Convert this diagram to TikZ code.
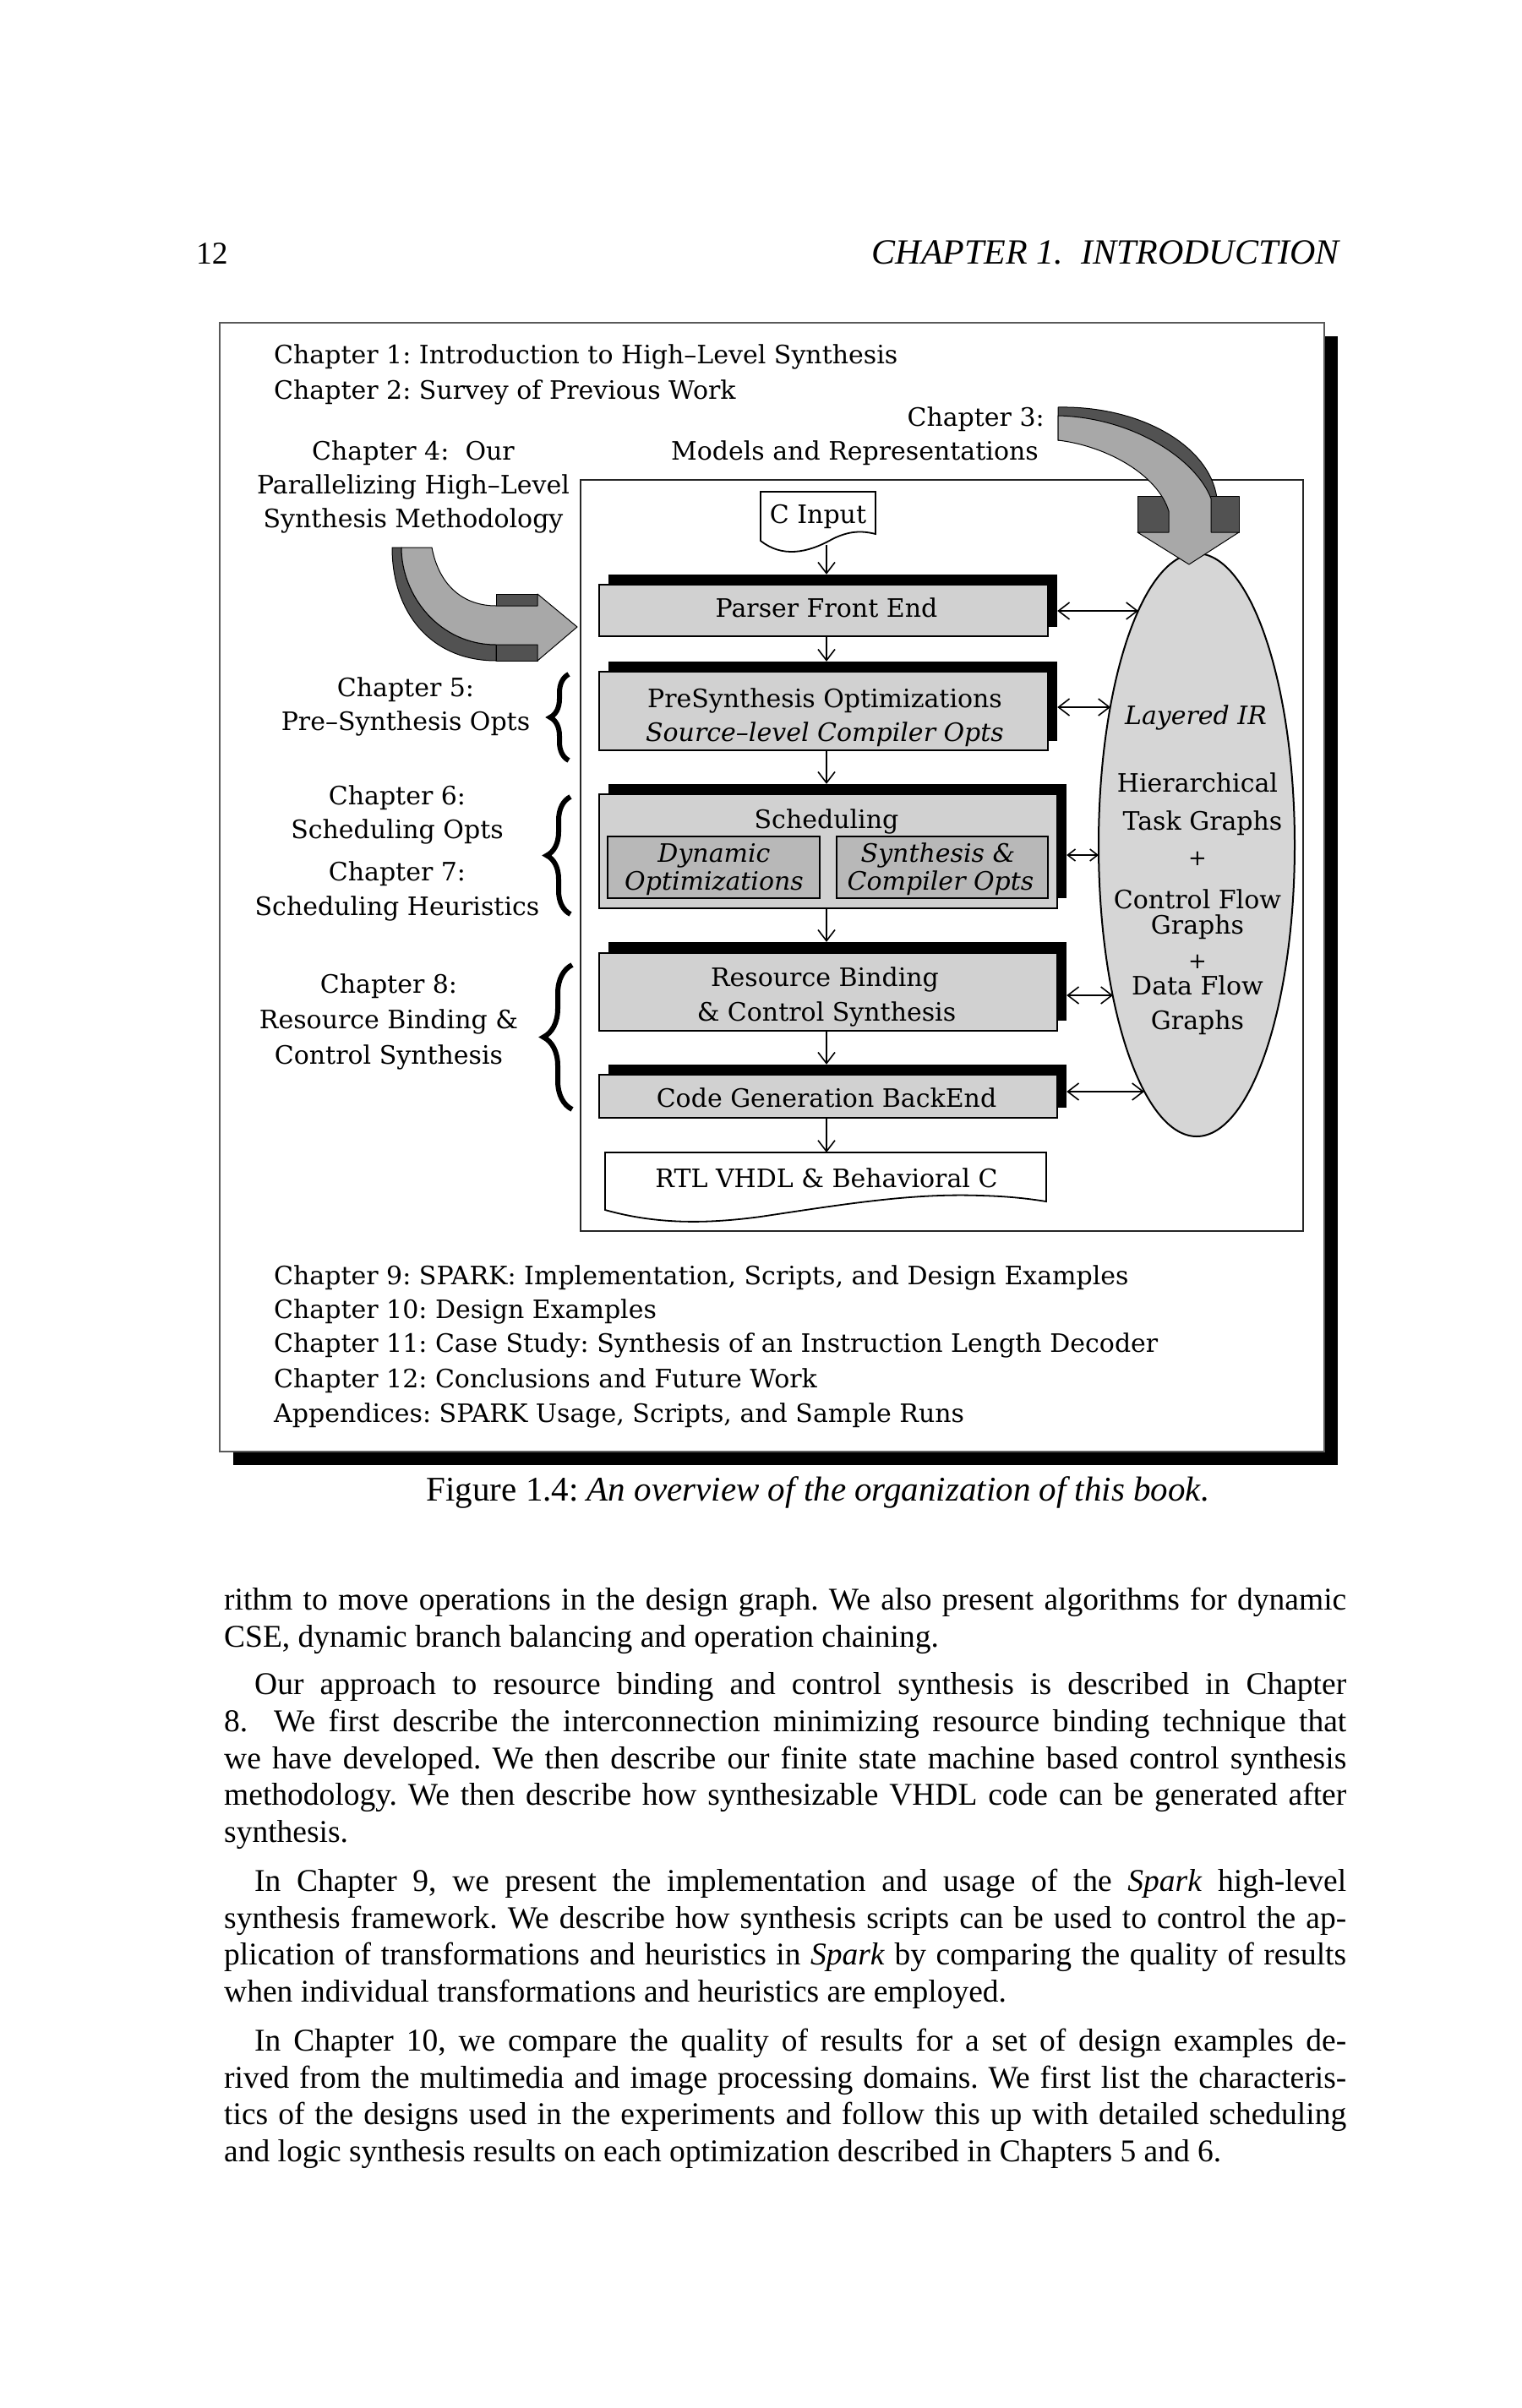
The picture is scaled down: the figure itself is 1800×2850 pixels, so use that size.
\documentclass[tikz,border=0pt]{standalone}
\usepackage{fontspec}
\setmainfont{Liberation Serif}
\newfontfamily\dfont{DejaVu Serif}
\usetikzlibrary{shapes.geometric,arrows.meta,decorations.pathreplacing}
\definecolor{facegray}{gray}{0.82}
\definecolor{subgray}{gray}{0.72}
\definecolor{irgray}{gray}{0.84}
\definecolor{arrlight}{gray}{0.66}
\definecolor{arrdark}{gray}{0.32}
\definecolor{framegray}{gray}{0.35}
\newlength\tw \setlength\tw{1328pt}
\begin{document}
\frenchspacing
\begin{tikzpicture}[x=1pt,y=-1pt,
  dtxt/.style={font=\dfont\fontsize{30}{40}\selectfont, inner sep=0pt, anchor=base},
  btxt/.style={font=\fontsize{37.5}{44}\selectfont, inner sep=0pt, anchor=base west},
  face/.style={draw=black, line width=2pt, fill=facegray, inner sep=0pt},
  shade/.style={fill=black, draw=none, inner sep=0pt},
  subbox/.style={draw=black, line width=1.5pt, fill=subgray, inner sep=0pt},
  flow/.style={-{Straight Barb[length=13pt,width=20pt]}, line width=1.6pt},
  both/.style={{Straight Barb[length=13pt,width=20pt]}-{Straight Barb[length=13pt,width=20pt]}, line width=1.6pt},
  bothsmall/.style={{Straight Barb[length=9pt,width=14pt]}-{Straight Barb[length=9pt,width=14pt]}, line width=1.6pt},
  brc/.style={decorate, decoration={brace, amplitude=#1}, line width=6pt},
  arrshape/.style={draw=black, line width=1pt, line join=round},
  docshape/.style={draw=black, line width=1.8pt, fill=white}
]
\path[use as bounding box] (0,0) rectangle (1800,2850);
\fill[white] (0,0) rectangle (1800,2850);

% running head
\node[btxt] (pgno) at (232,312) {12};
\node[btxt, anchor=base east, font=\fontsize{42}{44}\selectfont] (runhead) at (1585,312) {\itshape CHAPTER 1.\ \ INTRODUCTION};

% frame
\fill[black] (276,398) rectangle (1583,1734);
\draw[framegray, line width=2.5pt, fill=white] (260,382) rectangle (1567,1718);
\draw[black!85, line width=2pt] (687,568) rectangle (1542,1457);

% layered IR
\node[ellipse, draw=black, line width=2pt, fill=irgray, minimum width=232pt, minimum height=690pt, inner sep=0pt] (ir) at (1416,1000) {};

% flow boxes
\node[shade, minimum width=531pt, minimum height=62pt] (pfeS) at (985.5,711) {};
\node[face, minimum width=531pt, minimum height=61pt] (pfe) at (974.5,722.5) {};
\node[shade, minimum width=531pt, minimum height=94pt] (preS) at (985.5,830) {};
\node[face, minimum width=531pt, minimum height=93pt] (pre) at (974.5,841.5) {};
\node[shade, minimum width=542pt, minimum height=135pt] (schS) at (991,995.5) {};
\node[face, minimum width=542pt, minimum height=135pt] (sch) at (980,1007.5) {};
\node[subbox, minimum width=251pt, minimum height=73pt] (dyn) at (844.5,1026.5) {};
\node[subbox, minimum width=250pt, minimum height=73pt] (syn) at (1115,1026.5) {};
\node[shade, minimum width=542pt, minimum height=93pt] (resS) at (991,1161.5) {};
\node[face, minimum width=542pt, minimum height=92pt] (res) at (980,1174) {};
\node[shade, minimum width=542pt, minimum height=51pt] (cgS) at (991,1285.5) {};
\node[face, minimum width=542pt, minimum height=51pt] (cg) at (980,1297.5) {};

% documents
\draw[docshape] (900,640) -- (900,582) -- (1036,582) -- (1036,632)
  .. controls (1020,628) and (1005,628) .. (985,638)
  .. controls (955,655) and (925,660) .. (900,640) -- cycle;
\draw[docshape] (716,1432) -- (716,1364) -- (1238,1364) -- (1238,1422)
  .. controls (1225,1420) and (1200,1416) .. (1160,1415)
  .. controls (1080,1412) and (1000,1425) .. (900,1440)
  .. controls (840,1448) and (780,1450) .. (716,1432) -- cycle;

\coordinate (ax) at (978,0);
\coordinate (cinb) at (978,645);
\coordinate (rtlt) at (978,1364);
\coordinate (irA) at (1347,723);
\coordinate (irB) at (1314,837);
\coordinate (irC) at (1300,1012);
\coordinate (irD) at (1317,1178);
\coordinate (irE) at (1354,1292);

% vertical flow
\draw[flow] (cinb) -- (pfeS.north -| ax);
\draw[flow] (pfe.south -| ax) -- (preS.north -| ax);
\draw[flow] (pre.south -| ax) -- (schS.north -| ax);
\draw[flow] (sch.south -| ax) -- (resS.north -| ax);
\draw[flow] (res.south -| ax) -- (cgS.north -| ax);
\draw[flow] (cg.south -| ax) -- (rtlt);

% links to IR
\draw[both] (pfeS.east |- irA) -- (irA);
\draw[both] (preS.east |- irB) -- (irB);
\draw[bothsmall] (schS.east |- irC) -- (irC);
\draw[both] (resS.east |- irD) -- (irD);
\draw[both] (cgS.east |- irE) -- (irE);

% Chapter 3 arrow
\draw[arrshape, fill=arrdark] (1252,482) .. controls (1350,480) and (1432,528) .. (1440,590)
  -- (1383,600) .. controls (1370,565) and (1310,524) .. (1252,521) -- cycle;
\draw[arrshape, fill=arrdark] (1346,587) rectangle (1466,630);
\draw[arrshape, fill=arrlight] (1252,492) .. controls (1340,494) and (1415,543) .. (1433,590)
  -- (1433,630) -- (1466,630) -- (1407,668) -- (1346,630) -- (1383,630) -- (1383,605)
  .. controls (1370,562) and (1310,528) .. (1252,521) -- cycle;

% Chapter 4 arrow
\draw[arrshape, fill=arrdark] (464,648) -- (475,648) .. controls (475,705) and (520,763) .. (587,763)
  -- (587,782) .. controls (510,782) and (464,725) .. (464,648) -- cycle;
\draw[arrshape, fill=arrdark] (587,703) rectangle (636,782);
\draw[arrshape, fill=arrlight] (475,648) -- (511,648) .. controls (520,695) and (550,717) .. (587,717)
  -- (636,717) -- (636,703) -- (683,742) -- (636,782) -- (636,763) -- (587,763)
  .. controls (520,763) and (475,705) .. (475,648) -- cycle;

% braces
\draw[brc=22pt] (673,900) -- (673,798);
\draw[brc=28pt] (675,1082) -- (675,943);
\draw[brc=34pt] (677,1313) -- (677,1142);

% diagram texts
\node[dtxt, anchor=base west] (c1) at (324,430) {Chapter 1: Introduction to High–Level Synthesis};
\node[dtxt, anchor=base west] (c2) at (324,472) {Chapter 2: Survey of Previous Work};
\node[dtxt, anchor=base east] (c3a) at (1236,504) {Chapter 3:};
\node[dtxt, anchor=base east] (c3b) at (1229,544) {Models and Representations};
\node[dtxt] (c4a) at (489,544) {Chapter 4:\ \ Our};
\node[dtxt] (c4b) at (489,584) {Parallelizing High–Level};
\node[dtxt] (c4c) at (489,624) {Synthesis Methodology};
\node[dtxt] (c5a) at (480,824) {Chapter 5:};
\node[dtxt] (c5b) at (480,864) {Pre–Synthesis Opts};
\node[dtxt] (c6a) at (470,952) {Chapter 6:};
\node[dtxt] (c6b) at (470,992) {Scheduling Opts};
\node[dtxt] (c7a) at (470,1042) {Chapter 7:};
\node[dtxt] (c7b) at (470,1083) {Scheduling Heuristics};
\node[dtxt] (c8a) at (460,1175) {Chapter 8:};
\node[dtxt] (c8b) at (460,1217) {Resource Binding \&};
\node[dtxt] (c8c) at (460,1259) {Control Synthesis};

\node[dtxt] (cin) at (968,619) {C Input};
\node[dtxt] (tpfe) at (978,730) {Parser Front End};
\node[dtxt] (tpre1) at (976,837) {PreSynthesis Optimizations};
\node[dtxt] (tpre2) at (976,877) {\itshape Source–level Compiler Opts};
\node[dtxt] (tsch) at (978,980) {Scheduling};
\node[dtxt] (tdyn1) at (845,1020) {\itshape Dynamic};
\node[dtxt] (tdyn2) at (845,1053) {\itshape Optimizations};
\node[dtxt] (tsyn1) at (1110,1020) {\itshape Synthesis \&};
\node[dtxt] (tsyn2) at (1113,1053) {\itshape Compiler Opts};
\node[dtxt] (tres1) at (976,1167) {Resource Binding};
\node[dtxt] (tres2) at (978,1208) {\& Control Synthesis};
\node[dtxt] (tcg) at (978,1310) {Code Generation BackEnd};
\node[dtxt] (trtl) at (978,1405) {RTL VHDL \& Behavioral C};

\node[dtxt] (l1) at (1415,857) {\itshape Layered IR};
\node[dtxt] (l2) at (1417,937) {Hierarchical};
\node[dtxt] (l3) at (1423,982) {Task Graphs};
\node[dtxt, font=\dfont\fontsize{26}{30}\selectfont] (l4) at (1417,1024) {+};
\node[dtxt] (l5) at (1417,1075) {Control Flow};
\node[dtxt] (l6) at (1417,1105) {Graphs};
\node[dtxt, font=\dfont\fontsize{26}{30}\selectfont] (l7) at (1417,1146) {+};
\node[dtxt] (l8) at (1417,1177) {Data Flow};
\node[dtxt] (l9) at (1417,1218) {Graphs};

\node[dtxt, anchor=base west] (c9) at (324,1520) {Chapter 9: SPARK: Implementation, Scripts, and Design Examples};
\node[dtxt, anchor=base west] (c10) at (324,1560) {Chapter 10: Design Examples};
\node[dtxt, anchor=base west] (c11) at (324,1600) {Chapter 11: Case Study: Synthesis of an Instruction Length Decoder};
\node[dtxt, anchor=base west] (c12) at (324,1642) {Chapter 12: Conclusions and Future Work};
\node[dtxt, anchor=base west] (capp) at (324,1683) {Appendices: SPARK Usage, Scripts, and Sample Runs};

% caption
\node[btxt, anchor=base, font=\fontsize{41}{44}\selectfont] (cap) at (968,1776) {Figure 1.4: \textit{An overview of the organization of this book.}};

% body text
\node[btxt] (b1) at (265,1905) {\makebox[\tw][s]{rithm to move operations in the design graph. We also present algorithms for dynamic}};
\node[btxt] (b2) at (265,1949) {CSE, dynamic branch balancing and operation chaining.};
\node[btxt] (b3) at (301,2005) {\makebox[\dimexpr\tw-36pt][s]{Our approach to resource binding and control synthesis is described in Chapter}};
\node[btxt] (b4) at (265,2049) {\makebox[\tw][s]{8.\ \ We first describe the interconnection minimizing resource binding technique that}};
\node[btxt] (b5) at (265,2093) {\makebox[\tw][s]{we have developed. We then describe our finite state machine based control synthesis}};
\node[btxt] (b6) at (265,2136) {\makebox[\tw][s]{methodology. We then describe how synthesizable VHDL code can be generated after}};
\node[btxt] (b7) at (265,2180) {synthesis.};
\node[btxt] (b8) at (301,2238) {\makebox[\dimexpr\tw-36pt][s]{In Chapter 9, we present the implementation and usage of the \textit{Spark} high-level}};
\node[btxt] (b9) at (265,2282) {\makebox[\tw][s]{synthesis framework. We describe how synthesis scripts can be used to control the ap-}};
\node[btxt] (b10) at (265,2325) {\makebox[\tw][s]{plication of transformations and heuristics in \textit{Spark} by comparing the quality of results}};
\node[btxt] (b11) at (265,2369) {when individual transformations and heuristics are employed.};
\node[btxt] (b12) at (301,2427) {\makebox[\dimexpr\tw-36pt][s]{In Chapter 10, we compare the quality of results for a set of design examples de-}};
\node[btxt] (b13) at (265,2471) {\makebox[\tw][s]{rived from the multimedia and image processing domains. We first list the characteris-}};
\node[btxt] (b14) at (265,2514) {\makebox[\tw][s]{tics of the designs used in the experiments and follow this up with detailed scheduling}};
\node[btxt] (b15) at (265,2558) {and logic synthesis results on each optimization described in Chapters 5 and 6.};
\end{tikzpicture}
\end{document}
